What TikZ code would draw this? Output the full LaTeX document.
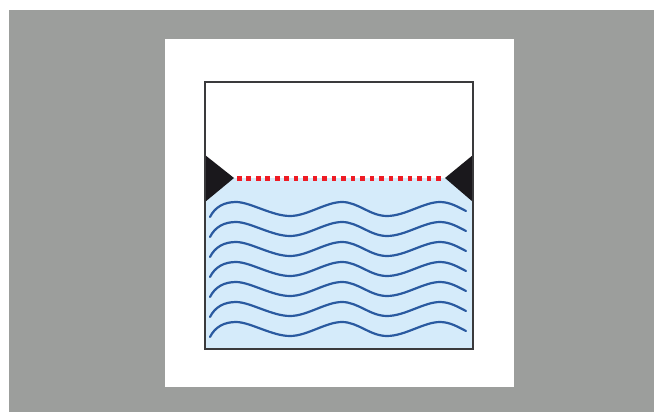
\documentclass[tikz,border=0pt]{standalone}
\definecolor{graybg}{HTML}{9C9E9C}
\definecolor{water}{HTML}{D5EBFA}
\definecolor{wave}{HTML}{2A5AA0}
\definecolor{frame}{HTML}{3A3A3C}
\definecolor{wedge}{HTML}{1A181C}
\definecolor{dotred}{HTML}{EE1C25}
\tikzset{
  wavy/.style={draw=wave,line width=2.2pt,line cap=round},
  wedgeshape/.style={fill=wedge,draw=none},
  dotmark/.style={fill=dotred,draw=none},
}
\begin{document}
\begin{tikzpicture}[x=1pt,y=-1pt]
\useasboundingbox (0,0) rectangle (654,412);
\fill[white] (0,0) rectangle (654,412);
\fill[graybg] (9,10) rectangle (654,412);
\fill[white] (165,39) rectangle (514,387);
\fill[water] (205,178) rectangle (473,349);
\foreach \d in {0,20,...,120}{
  \draw[wavy] (210,217+\d) .. controls (215,207+\d) and (224,202+\d) .. (236,202+\d)
    .. controls (250,202+\d) and (272,216+\d) .. (290,216+\d)
    .. controls (307,216+\d) and (326,202+\d) .. (342,202+\d)
    .. controls (358,202+\d) and (370,216+\d) .. (387,216+\d)
    .. controls (405,216+\d) and (424,202+\d) .. (440,202+\d)
    .. controls (450,202+\d) and (458,207+\d) .. (466,211+\d);
}
\fill[wedgeshape] (205,155) -- (234,178) -- (205,202) -- cycle;
\fill[wedgeshape] (473,155) -- (445,178) -- (473,202) -- cycle;
\foreach \i in {0,...,21}{
  \fill[dotmark] ({239.3+9.476*\i-2.3},176) rectangle ++(4.6,4.6);
}
\draw[frame,line width=2.8pt] (205,82) rectangle (473,349);
\end{tikzpicture}
\end{document}
